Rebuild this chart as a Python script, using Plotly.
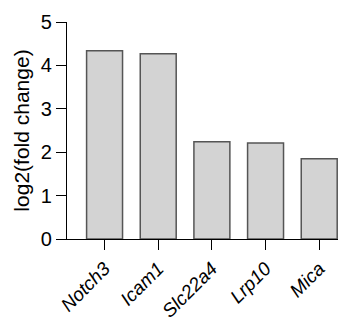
import plotly.graph_objects as go

genes = ["Notch3", "Icam1", "Slc22a4", "Lrp10", "Mica"]
log2fc = [4.34, 4.27, 2.24, 2.21, 1.85]
y_ticks = [0, 1, 2, 3, 4, 5]

fig = go.Figure(go.Bar(
    x=genes, y=log2fc,
    marker=dict(color="#d3d3d3", line=dict(color="#555555", width=1.5)),
    width=0.67,
))

fig.update_layout(
    width=355, height=321,
    margin=dict(l=59, r=25, t=14, b=90),
    plot_bgcolor="white", paper_bgcolor="white",
    font=dict(family="Liberation Sans, Arial, sans-serif", size=20, color="black"),
    showlegend=False,
    xaxis=dict(
        range=[-0.7, 4.35],
        automargin=False,
        showline=True, linecolor="black", linewidth=1.2,
        ticks="outside", ticklen=10, tickwidth=1.2, tickcolor="black",
        tickangle=-45,
        tickvals=list(range(len(genes))),
        ticktext=[f"<i>{g}</i>" for g in genes],
        tickfont=dict(size=19),
        showgrid=False, zeroline=False,
    ),
    yaxis=dict(
        range=[0, 5],
        automargin=False,
        tickvals=y_ticks,
        showline=True, linecolor="black", linewidth=1.2,
        ticks="outside", ticklen=10, tickwidth=1.2, tickcolor="black",
        tickfont=dict(size=20),
        title=dict(text="log2(fold change)", font=dict(size=21), standoff=5),
        showgrid=False, zeroline=False,
    ),
)

fig.write_html("out.html")
